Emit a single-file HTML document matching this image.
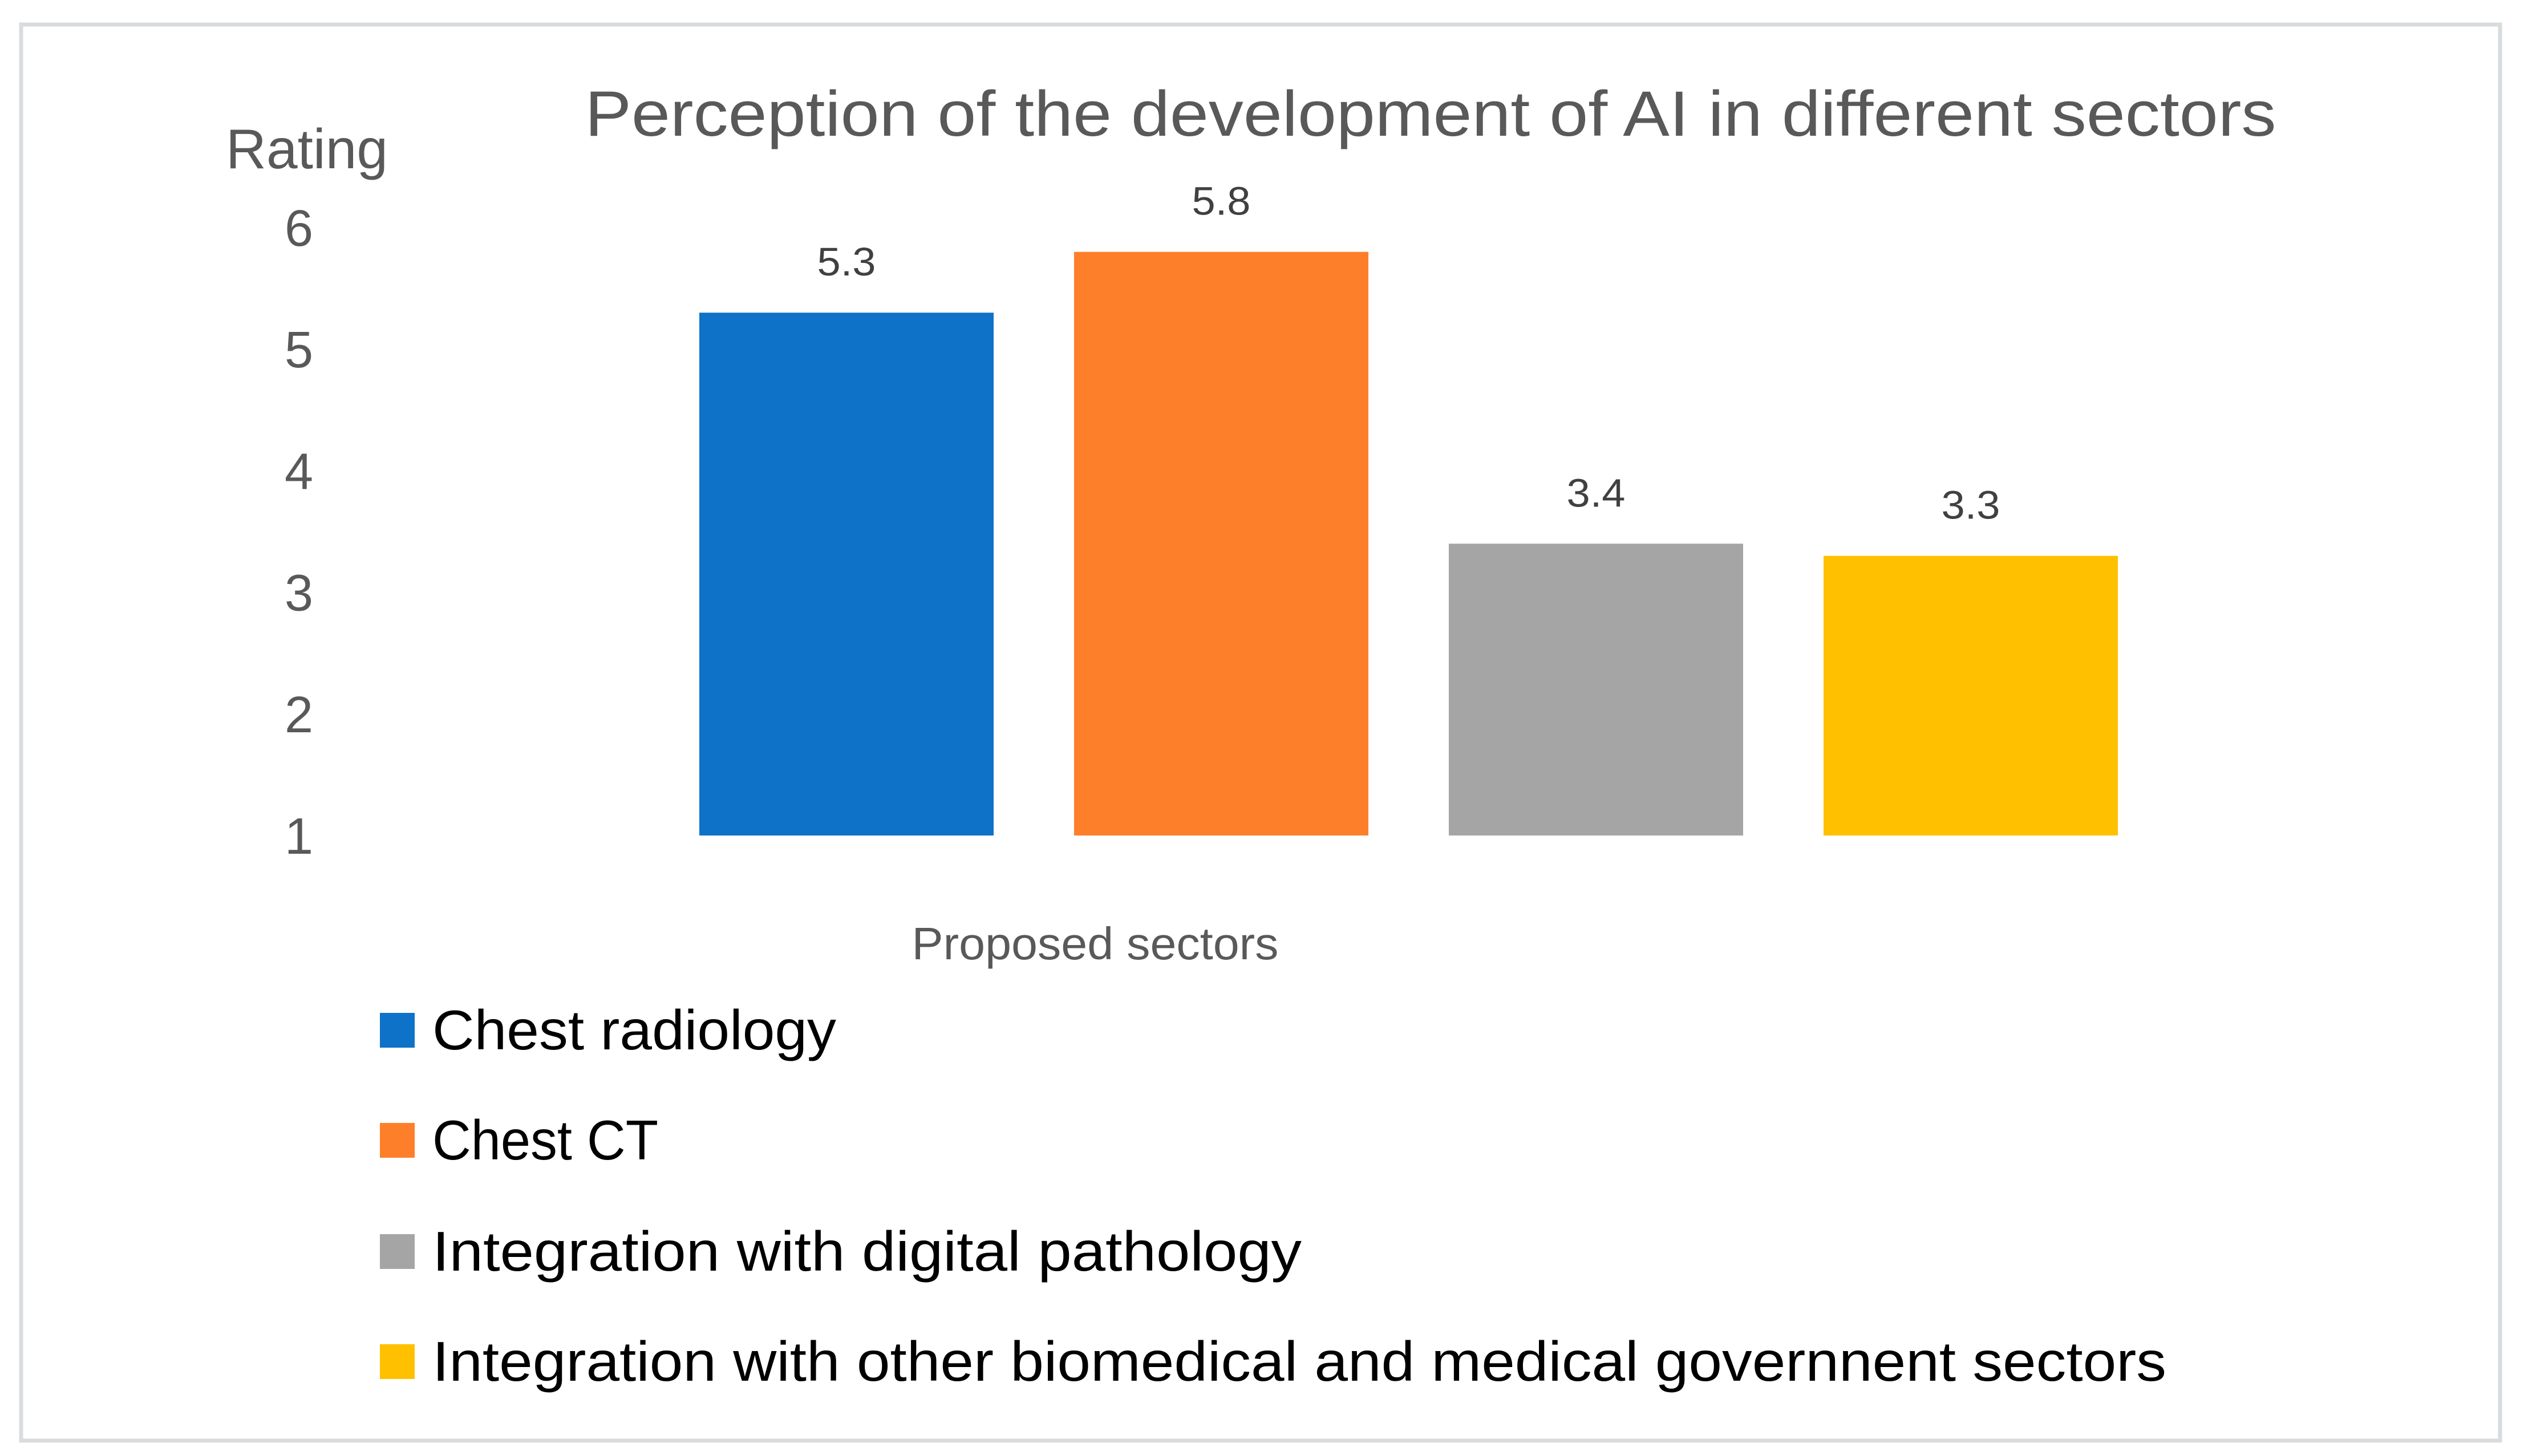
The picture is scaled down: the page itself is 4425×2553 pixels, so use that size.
<!DOCTYPE html>
<html><head><meta charset="utf-8"><style>
html,body{margin:0;padding:0;background:#fff;}
svg{display:block;}
text{font-family:"Liberation Sans",sans-serif;}
</style></head><body>
<svg id="chart" width="4425" height="2553" viewBox="0 0 4425 2553">
<rect x="37" y="43" width="4346" height="2483" fill="#fff" stroke="#d9dcdf" stroke-width="7"/>
<text x="2508" y="238" text-anchor="middle" font-size="112" fill="#595959" textLength="2965" lengthAdjust="spacingAndGlyphs">Perception of the development of AI in different sectors</text>
<text x="396" y="295" font-size="98" fill="#595959" textLength="284" lengthAdjust="spacingAndGlyphs">Rating</text>
<text x="1920" y="1682" text-anchor="middle" font-size="80" fill="#595959" textLength="643" lengthAdjust="spacingAndGlyphs">Proposed sectors</text>
<g id="yticks"></g>
<g id="bars"></g>
<g id="legend"></g>
</svg>
<script>
const categories = ["Chest radiology", "Chest CT", "Integration with digital pathology", "Integration with other biomedical and medical governnent sectors"];
const values = [5.3, 5.8, 3.4, 3.3];
const valueLabels = ["5.3", "5.8", "3.4", "3.3"];
const tickValues = [1, 2, 3, 4, 5, 6];
const colors = ["#0e72c8", "#fe7f2a", "#a5a5a5", "#ffc000"];

const NS = "http://www.w3.org/2000/svg";
const yMin = 1, yMax = 6, yBottom = 1465, yTop = 399;
function yScale(v){ return yBottom - (v - yMin) * (yBottom - yTop) / (yMax - yMin); }
const barStart = 1226, barStep = 657, barW = 516;
function xScale(i){ return barStart + i * barStep; }
function mk(tag, attrs){ const e = document.createElementNS(NS, tag); for (const k in attrs) e.setAttribute(k, attrs[k]); return e; }

const yt = document.getElementById('yticks');
tickValues.forEach(t => {
  const el = mk('text', {x: 524, y: yScale(t) + 32, 'text-anchor': 'middle', 'font-size': 90, fill: '#595959'});
  el.textContent = String(t);
  
  
  yt.appendChild(el);
});

const bg = document.getElementById('bars');
values.forEach((v, i) => {
  const x = xScale(i), y = yScale(v);
  const r = mk('rect', {x: x, y: y, width: barW, height: yScale(yMin) - y, fill: colors[i]});
  
  
  bg.appendChild(r);
  const t = mk('text', {x: x + barW / 2, y: y - 65, 'text-anchor': 'middle', 'font-size': 70, fill: '#404040', textLength: 103, lengthAdjust: 'spacingAndGlyphs'});
  t.textContent = valueLabels[i];
  
  
  bg.appendChild(t);
});

const lg = document.getElementById('legend');
const legendY = [1807, 2000, 2195, 2388];
const legendW = [708, 396, 1524, 3040];
categories.forEach((c, i) => {
  const s = mk('rect', {x: 666, y: legendY[i] - 31, width: 61, height: 61, fill: colors[i]});
  
  
  lg.appendChild(s);
  const t = mk('text', {x: 758, y: legendY[i] + 33, 'font-size': 98, fill: '#000', textLength: legendW[i], lengthAdjust: 'spacingAndGlyphs'});
  t.textContent = c;
  
  
  lg.appendChild(t);
});
</script>
</body></html>
